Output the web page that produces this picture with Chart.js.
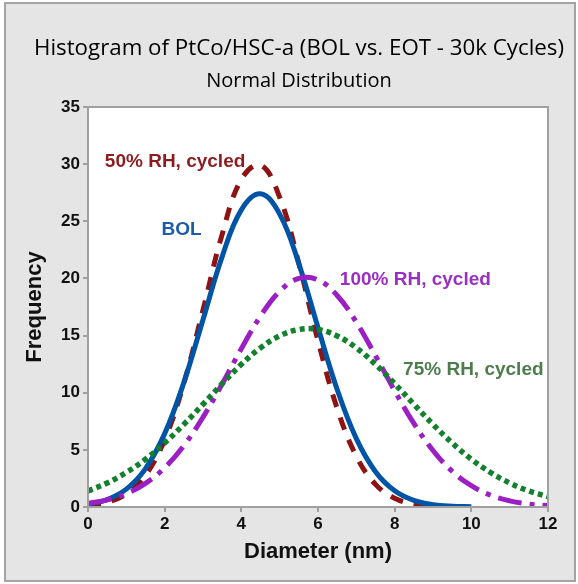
<!DOCTYPE html>
<html>
<head>
<meta charset="utf-8">
<script src="https://cdn.jsdelivr.net/npm/chart.js@4/dist/chart.umd.min.js"></script>
<style>
  html, body { margin: 0; padding: 0; background: #ffffff; }
  #wrap { width: 578px; height: 584px; position: relative; }
</style>
</head>
<body>
<div id="wrap"><canvas id="c" width="578" height="584"></canvas></div>
<script>
// ---- data ----
const diameter = [0, 0.5, 1, 1.5, 2, 2.5, 3, 3.5, 4, 4.5, 5, 5.5, 6, 6.5, 7, 7.5, 8, 8.5, 9, 9.5, 10, 10.5, 11, 11.5, 12];
const bol    = [0.24, 0.65, 1.56, 3.36, 6.42, 10.89, 16.39, 21.91, 26.0, 27.4, 25.63, 21.29, 15.70, 10.28, 5.98, 3.09, 1.42, 0.58, 0.21, 0.07, 0.02, null, null, null, null];
const rh50   = [0.13, 0.41, 1.14, 2.78, 5.89, 10.82, 17.24, 23.86, 28.67, 29.92, 27.10, 21.31, 14.55, 8.63, 4.44, 1.98, 0.77, 0.26, 0.08, null, null, null, null, null, null];
const rh100  = [0.31, 0.62, 1.17, 2.07, 3.44, 5.37, 7.86, 10.77, 13.85, 16.70, 18.87, 20.0, 19.87, 18.51, 16.17, 13.24, 10.17, 7.32, 4.94, 3.13, 1.86, 1.03, 0.54, 0.26, 0.12];
const rh75   = [1.40, 2.10, 3.02, 4.18, 5.60, 7.23, 8.99, 10.79, 12.48, 13.92, 14.97, 15.53, 15.53, 14.97, 13.92, 12.48, 10.79, 8.99, 7.23, 5.60, 4.18, 3.02, 2.10, 1.40, 0.91];
const seriesNames = ['BOL', '50% RH, cycled', '100% RH, cycled', '75% RH, cycled'];
const xTickValues = [0, 2, 4, 6, 8, 10, 12];
const yTickValues = [0, 5, 10, 15, 20, 25, 30, 35];
const titleText = 'Histogram of PtCo/HSC-a (BOL vs. EOT - 30k Cycles)';
const subtitleText = 'Normal Distribution';

// in-plot labels, anchored in data coordinates (left edge, vertical centre)
const curveLabels = [
  { text: '50% RH, cycled', x: 0.44, y: 30.2, color: '#8c1c1f' },
  { text: 'BOL', x: 1.92, y: 24.3, color: '#1a5ea8' },
  { text: '100% RH, cycled', x: 6.57, y: 19.9, color: '#9a2fc2' },
  { text: '75% RH, cycled', x: 8.22, y: 12.0, color: '#4d7d4d' }
];

function toPoints(values) {
  const pts = [];
  values.forEach((v, i) => { if (v !== null) pts.push({ x: diameter[i], y: v }); });
  return pts;
}

const tickFont = { family: '"Liberation Sans", Arial, sans-serif', size: 17, weight: 'bold' };
const axisTitleFont = { family: '"Liberation Sans", Arial, sans-serif', size: 22, weight: 'bold' };

const framePlugin = {
  id: 'frame',
  beforeDraw(chart) {
    const ctx = chart.ctx;
    const a = chart.chartArea;
    ctx.save();
    ctx.fillStyle = '#ffffff';
    ctx.fillRect(0, 0, chart.width, chart.height);
    ctx.fillStyle = '#e5e5e5';
    ctx.fillRect(5, 3, 570, 578);
    ctx.strokeStyle = '#a3a3a3';
    ctx.lineWidth = 2;
    ctx.strokeRect(5, 3, 570, 578);
    ctx.fillStyle = '#ffffff';
    ctx.fillRect(a.left, a.top, a.right - a.left, a.bottom - a.top);
    // titles
    ctx.fillStyle = '#000000';
    ctx.textAlign = 'center';
    ctx.textBaseline = 'middle';
    ctx.font = '22.3px "Open Sans", sans-serif';
    ctx.fillText(titleText, 299, 49);
    ctx.font = '500 20px "Open Sans", sans-serif';
    ctx.fillText(subtitleText, 299, 81);
    ctx.restore();
  },
  afterDatasetsDraw(chart) {
    const ctx = chart.ctx;
    const a = chart.chartArea;
    const xs = chart.scales.x, ys = chart.scales.y;
    ctx.save();
    ctx.font = 'bold 19px "Liberation Sans", Arial, sans-serif';
    ctx.textAlign = 'left';
    ctx.textBaseline = 'middle';
    curveLabels.forEach(l => {
      ctx.fillStyle = l.color;
      ctx.fillText(l.text, xs.getPixelForValue(l.x), ys.getPixelForValue(l.y));
    });
    ctx.strokeStyle = '#a0a0a0';
    ctx.lineWidth = 2;
    ctx.strokeRect(a.left, a.top, a.right - a.left, a.bottom - a.top);
    ctx.restore();
  }
};

const common = { pointRadius: 0, pointHoverRadius: 0, tension: 0.4, fill: false, borderCapStyle: 'butt', clip: 0 };

new Chart(document.getElementById('c'), {
  type: 'line',
  data: {
    datasets: [
      Object.assign({ label: seriesNames[3], data: toPoints(rh75), borderColor: '#12802c', borderWidth: 5.5, borderDash: [5, 4] }, common),
      Object.assign({ label: seriesNames[2], data: toPoints(rh100), borderColor: '#9b1fc2', borderWidth: 5, borderDash: [24, 8, 5, 8] }, common),
      Object.assign({ label: seriesNames[0], data: toPoints(bol), borderColor: '#0054a6', borderWidth: 5 }, common),
      Object.assign({ label: seriesNames[1], data: toPoints(rh50), borderColor: '#8e1414', borderWidth: 5, borderDash: [13, 11] }, common)
    ]
  },
  options: {
    responsive: false,
    animation: false,
    events: [],
    layout: { padding: { left: 0, right: 30, top: 107, bottom: 0 } },
    plugins: { legend: { display: false }, title: { display: false }, tooltip: { enabled: false } },
    scales: {
      x: {
        type: 'linear', min: 0, max: 12,
        afterBuildTicks(scale) { scale.ticks = xTickValues.map(v => ({ value: v })); },
        afterFit(scale) { scale.height = 77; },
        ticks: { font: tickFont, color: '#111111', padding: 2 },
        grid: { display: true, drawOnChartArea: false, drawTicks: true, tickLength: 5, color: '#a0a0a0', lineWidth: 2 },
        border: { display: false },
        title: { display: true, text: 'Diameter (nm)', font: axisTitleFont, color: '#111111', padding: { top: 0, bottom: 19 } }
      },
      y: {
        type: 'linear', min: 0, max: 35,
        afterBuildTicks(scale) { scale.ticks = yTickValues.map(v => ({ value: v })); },
        afterFit(scale) { scale.width = 88; },
        ticks: { font: tickFont, color: '#111111', padding: 3 },
        grid: { display: true, drawOnChartArea: false, drawTicks: true, tickLength: 5, color: '#a0a0a0', lineWidth: 2 },
        border: { display: false },
        title: { display: true, text: 'Frequency', font: axisTitleFont, color: '#111111', padding: { top: 22, bottom: 0 } }
      }
    }
  },
  plugins: [framePlugin]
});
</script>
</body>
</html>
